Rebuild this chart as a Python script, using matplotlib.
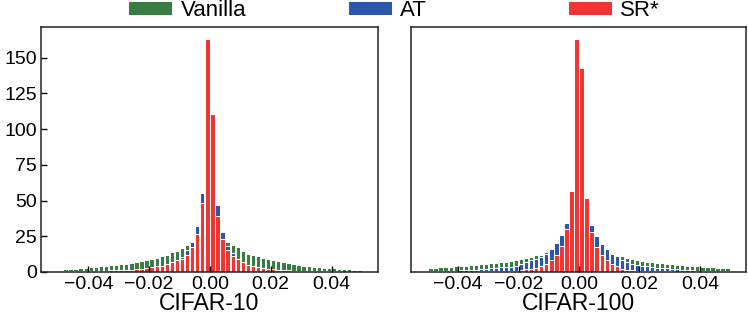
import numpy as np
import matplotlib
matplotlib.use("Agg")
import matplotlib.pyplot as plt

plt.rcParams["font.family"] = ["Liberation Sans", "DejaVu Sans"]

# 60 bins on [-0.05, 0.05]
bin_edges = np.linspace(-0.05, 0.05, 61)
labels = ["Vanilla", "AT", "SR*"]
colors = ["#3a7d44", "#2c57a8", "#f03535"]
titles = ["CIFAR-10", "CIFAR-100"]

c10_vanilla = [1.6, 1.9, 2.1, 2.3, 2.6, 3.0, 3.3, 3.5, 4.0, 4.2,
               4.7, 5.1, 5.4, 5.8, 6.3, 6.8, 7.5, 8.2, 9.1, 10.0,
               11.0, 12.1, 13.8, 15.0, 16.8, 19.2, 20.5, 22.0, 24.0, 25.0,
               25.0, 24.0, 22.5, 21.3, 19.2, 17.3, 15.0, 12.9, 12.1, 11.0,
               9.8, 8.9, 8.2, 7.5, 6.8, 6.1, 5.6, 4.9, 4.4, 4.2,
               3.7, 3.5, 3.0, 2.8, 2.6, 2.3, 2.1, 1.9, 1.6, 1.4]
c10_at = [0.2, 0.2, 0.3, 0.3, 0.4, 0.4, 0.5, 0.6, 0.6, 0.7,
          0.8, 0.9, 1.0, 1.1, 1.3, 1.8, 2.1, 2.4, 3.0, 3.7,
          4.1, 5.3, 6.5, 8.2, 10.5, 15.2, 21.3, 32.2, 55.4, 80.0,
          70.0, 47.0, 28.0, 18.5, 13.3, 8.8, 6.4, 4.8, 4.1, 3.3,
          2.6, 2.1, 1.7, 1.3, 1.1, 0.9, 0.8, 0.7, 0.6, 0.5,
          0.4, 0.3, 0.3, 0.3, 0.2, 0.2, 0.2, 0.2, 0.1, 0.1]
c10_sr = [0.3, 0.3, 0.4, 0.4, 0.5, 0.5, 0.6, 0.7, 0.8, 0.9,
          1.0, 1.1, 1.2, 1.4, 1.6, 1.9, 2.2, 2.5, 3.2, 3.9,
          4.4, 5.6, 6.8, 8.4, 9.3, 12.1, 17.3, 26.4, 48.4, 163.0,
          110.5, 39.0, 23.0, 15.7, 11.5, 9.1, 6.8, 5.1, 4.4, 3.5,
          2.8, 2.3, 1.9, 1.4, 1.2, 1.0, 0.9, 0.8, 0.7, 0.6,
          0.5, 0.4, 0.4, 0.3, 0.3, 0.3, 0.2, 0.2, 0.2, 0.2]

c100_vanilla = [2.8, 3.0, 3.2, 3.4, 3.6, 3.9, 4.1, 4.4, 4.7, 5.0,
                5.3, 5.6, 6.0, 6.4, 6.8, 7.2, 7.7, 8.2, 9.1, 9.8,
                10.5, 11.7, 12.1, 14.2, 15.0, 16.0, 17.0, 18.0, 19.0, 19.0,
                19.0, 18.0, 17.0, 16.0, 15.0, 14.5, 13.3, 11.7, 11.0, 10.0,
                9.1, 8.2, 7.7, 7.2, 6.8, 6.4, 6.0, 5.6, 5.3, 5.0,
                4.7, 4.4, 4.1, 3.9, 3.6, 3.4, 3.2, 3.0, 2.9, 2.8]
c100_at = [0.4, 0.5, 0.5, 0.6, 0.7, 0.8, 1.0, 1.2, 1.4, 1.6,
           1.9, 2.2, 2.5, 2.8, 3.2, 3.5, 3.7, 4.0, 5.8, 7.2,
           8.2, 9.3, 10.5, 12.9, 16.4, 20.3, 26.2, 34.5, 45.0, 60.0,
           55.0, 42.0, 33.0, 25.0, 19.6, 15.9, 12.9, 11.0, 8.6, 6.8,
           5.8, 4.7, 4.2, 3.8, 3.4, 3.0, 2.7, 2.4, 2.1, 1.8,
           1.5, 1.3, 1.1, 0.9, 0.7, 0.6, 0.5, 0.4, 0.3, 0.3]
c100_sr = [0.1, 0.1, 0.1, 0.1, 0.1, 0.1, 0.2, 0.2, 0.2, 0.2,
           0.3, 0.3, 0.4, 0.4, 0.5, 0.6, 0.7, 0.9, 1.2, 1.9,
           2.3, 3.0, 4.0, 5.8, 8.2, 11.7, 18.2, 30.0, 56.5, 163.0,
           143.0, 51.5, 28.2, 17.8, 11.9, 8.4, 5.7, 4.0, 2.1, 1.6,
           1.2, 0.9, 0.7, 0.6, 0.5, 0.4, 0.4, 0.3, 0.3, 0.2,
           0.2, 0.2, 0.2, 0.1, 0.1, 0.1, 0.1, 0.1, 0.1, 0.1]

panels = [[c10_vanilla, c10_at, c10_sr], [c100_vanilla, c100_at, c100_sr]]

centers = 0.5 * (bin_edges[:-1] + bin_edges[1:])
width = (bin_edges[1] - bin_edges[0]) * 0.86

fig = plt.figure(figsize=(7.48, 3.3), dpi=100)
ax1 = fig.add_axes([0.055, 0.176, 0.450, 0.742])
ax2 = fig.add_axes([0.550, 0.176, 0.447, 0.742], sharey=ax1)

for ax, series, title in zip([ax1, ax2], panels, titles):
    for vals, lab, col in zip(series, labels, colors):
        ax.bar(centers, vals, width=width, color=col, edgecolor="white",
               linewidth=0.7, label=lab)
    ax.set_xlim(-0.0555, 0.0552)
    ax.set_xticks([-0.04, -0.02, 0.0, 0.02, 0.04])
    ax.set_xticklabels(["\u22120.04", "\u22120.02", "0.00", "0.02", "0.04"])
    ax.set_xlabel(title, fontsize=16.5, labelpad=-1)
    ax.tick_params(direction="in", labelsize=14, length=4, width=1, pad=3)
    for s in ax.spines.values():
        s.set_linewidth(1.1)
        s.set_color("#222222")

ax1.set_ylim(0, 171.5)
ax1.set_yticks([0, 25, 50, 75, 100, 125, 150])
ax2.tick_params(axis="y", left=False, labelleft=False)

# one legend entry per slot, evenly spaced across the top
handles, labs = ax1.get_legend_handles_labels()
for h, lab, xpos in zip(handles, labs, [128, 348, 568]):
    leg = fig.legend([h], [lab], loc="center left",
                     bbox_to_anchor=(xpos / 748, 0.968), frameon=False,
                     fontsize=16, handlelength=2.0, handleheight=0.6,
                     handletextpad=0.36, borderpad=0, borderaxespad=0)

fig.savefig("out.png", dpi=100)
